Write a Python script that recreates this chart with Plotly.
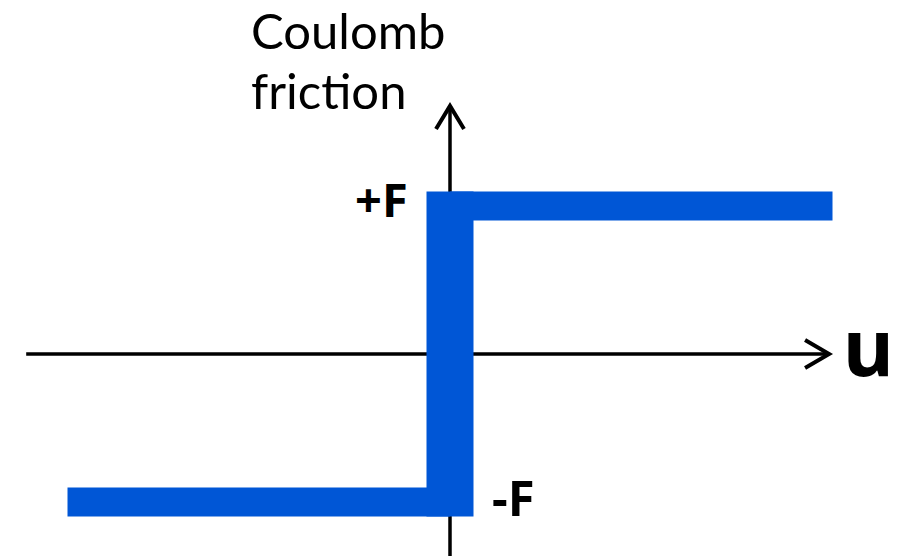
import plotly.graph_objects as go

# ---- data (normalised units: u in [-1,1], friction in [-F,+F]) ----
u_neg = [-1.0, 0.0]
f_neg = [-1.0, -1.0]
u_pos = [0.0, 1.0]
f_pos = [1.0, 1.0]
u_jump = [0.0, 0.0]
f_jump = [-1.0, 1.0]

x_axis_u = [-1.108, 0.991]
y_axis_f = [-1.40, 1.676]

labels = {"plus": "+F", "minus": "-F", "xlabel": "u", "ylabel1": "Coulomb", "ylabel2": "friction"}

# ---- pixel helpers for layout ----
W, H = 914, 556
X0, SX = 450.0, 382.5   # pixel of u=0, px per unit
Y0, SY = 354.0, 148.0   # pixel of f=0, px per unit

xr = [(0 - X0) / SX, (W - X0) / SX]
yr = [(Y0 - H) / SY, (Y0 - 0) / SY]

BLUE = "#0056D6"
fig = go.Figure()

# axes
fig.add_trace(go.Scatter(x=x_axis_u, y=[0, 0], mode="lines",
                         line=dict(color="black", width=3.5), hoverinfo="skip"))
fig.add_trace(go.Scatter(x=[0, 0], y=y_axis_f, mode="lines",
                         line=dict(color="black", width=3.5), hoverinfo="skip"))
# arrow heads (open chevrons)
ax_back = 24 / SX
ax_half = 14 / SY
fig.add_trace(go.Scatter(x=[x_axis_u[1] - ax_back, x_axis_u[1], x_axis_u[1] - ax_back],
                         y=[ax_half, 0, -ax_half], mode="lines",
                         line=dict(color="black", width=4), hoverinfo="skip"))
ay_back = 23 / SY
ay_half = 14 / SX
fig.add_trace(go.Scatter(x=[-ay_half, 0, ay_half],
                         y=[y_axis_f[1] - ay_back, y_axis_f[1], y_axis_f[1] - ay_back], mode="lines",
                         line=dict(color="black", width=4), hoverinfo="skip"))

# step function
hthick = 29
vthick = 47
fig.add_trace(go.Scatter(x=u_neg, y=f_neg, mode="lines",
                         line=dict(color=BLUE, width=hthick), hoverinfo="skip"))
fig.add_trace(go.Scatter(x=u_pos, y=f_pos, mode="lines",
                         line=dict(color=BLUE, width=hthick), hoverinfo="skip"))
ext = (hthick / 2) / SY
fig.add_trace(go.Scatter(x=u_jump, y=[f_jump[0] - ext, f_jump[1] + ext], mode="lines",
                         line=dict(color=BLUE, width=vthick), hoverinfo="skip"))

def px(xp):
    return xp / W
def py(yp):
    return 1 - yp / H

TS = 49
title_font = dict(family="Lato, Open Sans, sans-serif", size=TS, color="black")
hand_font = dict(family="Noto Sans, DejaVu Sans, sans-serif", color="black")
box_h = 1.2 * TS + 1

ann = [
    dict(text=labels["ylabel1"], x=px(250), y=py(0), xanchor="left", yanchor="top",
         font=title_font, borderpad=0),
    dict(text=labels["ylabel2"], x=px(250), y=py(box_h), xanchor="left", yanchor="top",
         font=title_font, borderpad=0),
    dict(text="<b>" + labels["plus"] + "</b>", x=px(381), y=py(199), xanchor="center", yanchor="middle",
         font=dict(size=47, **hand_font)),
    dict(text="<b>" + labels["minus"] + "</b>", x=px(513), y=py(497), xanchor="center", yanchor="middle",
         font=dict(size=49, **hand_font)),
    dict(text="<b>" + labels["xlabel"] + "</b>", x=px(868), y=py(346), xanchor="center", yanchor="middle",
         font=dict(size=78, **hand_font)),
]
for a in ann:
    a.update(xref="paper", yref="paper", showarrow=False)

fig.update_layout(
    width=W, height=H, autosize=False,
    margin=dict(l=0, r=0, t=0, b=0),
    paper_bgcolor="white", plot_bgcolor="white",
    showlegend=False,
    xaxis=dict(range=xr, visible=False, fixedrange=True),
    yaxis=dict(range=yr, visible=False, fixedrange=True),
    annotations=ann,
)

fig.write_html("out.html", config={"displayModeBar": False},
               post_script="document.body.style.margin='0';")
